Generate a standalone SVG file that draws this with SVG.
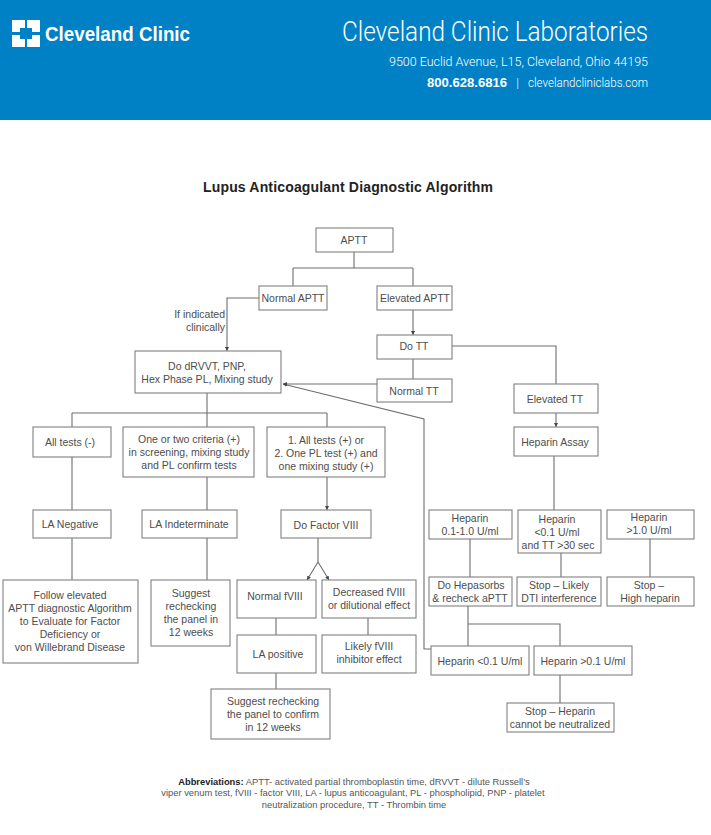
<svg xmlns="http://www.w3.org/2000/svg" width="711" height="835" viewBox="0 0 711 835">
<style>
text{font-family:"Liberation Sans",Arial,sans-serif}
.b rect{fill:#fff;stroke:#808080;stroke-width:1.1}
.b text,.t{font-size:10.5px;fill:#4d4d4d;text-anchor:middle}
.c path{fill:none;stroke:#6e6e6e;stroke-width:1.1}
.h{fill:#fff;text-anchor:end;font-family:Roboto,"Liberation Sans",sans-serif;font-weight:300}
.a{font-size:9.35px;fill:#555;text-anchor:middle}
</style>
<defs><marker id="ar" markerWidth="5" markerHeight="5" refX="4" refY="2" orient="auto" markerUnits="userSpaceOnUse"><path d="M0 0L4 2L0 4z" fill="#444"/></marker></defs>
<rect width="711" height="120" fill="#0081c6"/>
<g id="logo"><path d="M12 20H25V28H20V32H12ZM27 20H40V32H32V28H27ZM12 35H20V39H25V47H12ZM32 35H40V47H27V39H32Z" fill="#fff"/>
<text x="45" y="41" font-size="21" font-weight="700" fill="#fff" textLength="145" lengthAdjust="spacingAndGlyphs">Cleveland Clinic</text></g>
<text class="h" x="648" y="41" font-size="28" textLength="306" lengthAdjust="spacingAndGlyphs">Cleveland Clinic Laboratories</text>
<text class="h" x="648" y="66" font-size="12.5" textLength="259" lengthAdjust="spacingAndGlyphs">9500 Euclid Avenue, L15, Cleveland, Ohio 44195</text>
<text x="427" y="87" font-size="12.5" font-weight="700" fill="#fff" textLength="80" lengthAdjust="spacingAndGlyphs">800.628.6816</text>
<text class="h" x="519" y="87" font-size="12">|</text>
<text class="h" x="648" y="87" font-size="12" textLength="120" lengthAdjust="spacingAndGlyphs">clevelandcliniclabs.com</text>
<text x="348" y="192" font-size="14" font-weight="700" fill="#222" text-anchor="middle" textLength="290" lengthAdjust="spacing">Lupus Anticoagulant Diagnostic Algorithm</text>
<g id="connectors" class="c">
<path d="M354 252V268M293 268H413M293 268V286M413 268V286"/>
<path d="M259 298H227V351" marker-end="url(#ar)"/>
<path d="M413 310V335" marker-end="url(#ar)"/>
<path d="M413 359V379"/>
<path d="M377 384H283" marker-end="url(#ar)"/>
<path d="M431 649H424V419L283 384" marker-end="url(#ar)"/>
<path d="M452 346H556V384"/>
<path d="M556 413V427" marker-end="url(#ar)"/>
<path d="M554 456V510"/>
<path d="M207 393V428M72 413H327M72 413V427M327 413V427"/>
<path d="M72 457V510M72 538V580M207 477V510M207 538V580"/>
<path d="M327 477V510" marker-end="url(#ar)"/>
<path d="M318 538V562"/>
<path d="M318 562L307 580" marker-end="url(#ar)"/>
<path d="M318 562L329 580" marker-end="url(#ar)"/>
<path d="M276 618V635M276 673V689M368 618V635"/>
<path d="M470 539V577M561 553V577M650 539V577"/>
<path d="M468 606V646M468 624H560V646M560 675V703"/>
</g>
<g class="b">
<g id="n-aptt"><rect x="316" y="228" width="77" height="24"/><text x="354" y="244">APTT</text></g>
<g id="n-normal-aptt"><rect x="259" y="286" width="68" height="24"/><text x="293" y="302">Normal APTT</text></g>
<g id="n-elevated-aptt"><rect x="377" y="286" width="75" height="24"/><text x="415" y="302">Elevated APTT</text></g>
<g id="n-do-tt"><rect x="377" y="335" width="75" height="24"/><text x="414" y="350">Do TT</text></g>
<g id="n-normal-tt"><rect x="377" y="379" width="75" height="23"/><text x="414" y="395">Normal TT</text></g>
<g id="n-drvvt"><rect x="135" y="351" width="146" height="42"/><text x="207" y="370">Do dRVVT, PNP,</text><text x="207" y="383">Hex Phase PL, Mixing study</text></g>
<g id="n-elevated-tt"><rect x="514" y="384" width="84" height="29"/><text x="555" y="403">Elevated TT</text></g>
<g id="n-heparin-assay"><rect x="514" y="427" width="84" height="29"/><text x="555" y="446">Heparin Assay</text></g>
<g id="n-all-neg"><rect x="33" y="427" width="78" height="30"/><text x="70" y="446">All tests (-)</text></g>
<g id="n-one-two"><rect x="123" y="427" width="131" height="50"/><text x="189" y="443">One or two criteria (+)</text><text x="189" y="456">in screening, mixing study</text><text x="189" y="469">and PL confirm tests</text></g>
<g id="n-all-pos"><rect x="267" y="427" width="118" height="50"/><text x="326" y="444">1. All tests (+) or</text><text x="326" y="457">2. One PL test (+) and</text><text x="326" y="470">one mixing study (+)</text></g>
<g id="n-la-neg"><rect x="33" y="510" width="78" height="28"/><text x="70" y="528">LA Negative</text></g>
<g id="n-la-ind"><rect x="142" y="510" width="95" height="28"/><text x="189" y="528">LA Indeterminate</text></g>
<g id="n-factor"><rect x="281" y="510" width="90" height="28"/><text x="326" y="529">Do Factor VIII</text></g>
<g id="n-hep-mid"><rect x="429" y="510" width="83" height="29"/><text x="470" y="522">Heparin</text><text x="470" y="535">0.1-1.0 U/ml</text></g>
<g id="n-hep-low"><rect x="518" y="510" width="83" height="43"/><text x="557" y="523">Heparin</text><text x="557" y="536">&lt;0.1 U/ml</text><text x="558" y="549">and TT &gt;30 sec</text></g>
<g id="n-hep-high"><rect x="607" y="510" width="87" height="29"/><text x="649" y="521">Heparin</text><text x="649" y="534">&gt;1.0 U/ml</text></g>
<g id="n-follow"><rect x="3" y="580" width="135" height="83"/><text x="70" y="599">Follow elevated</text><text x="70" y="612">APTT diagnostic Algorithm</text><text x="70" y="625">to Evaluate for Factor</text><text x="70" y="638">Deficiency or</text><text x="70" y="651">von Willebrand Disease</text></g>
<g id="n-suggest"><rect x="151" y="580" width="79" height="66"/><text x="191" y="597">Suggest</text><text x="191" y="610">rechecking</text><text x="191" y="623">the panel in</text><text x="191" y="636">12 weeks</text></g>
<g id="n-normal-f8"><rect x="237" y="580" width="79" height="38"/><text x="275" y="600">Normal fVIII</text></g>
<g id="n-dec-f8"><rect x="322" y="580" width="94" height="38"/><text x="369" y="596">Decreased fVIII</text><text x="369" y="609">or dilutional effect</text></g>
<g id="n-la-pos"><rect x="237" y="635" width="79" height="38"/><text x="278" y="658">LA positive</text></g>
<g id="n-likely"><rect x="322" y="635" width="94" height="38"/><text x="369" y="650">Likely fVIII</text><text x="369" y="663">inhibitor effect</text></g>
<g id="n-suggest2"><rect x="211" y="689" width="119" height="50"/><text x="273" y="705">Suggest rechecking</text><text x="273" y="718">the panel to confirm</text><text x="273" y="731">in 12 weeks</text></g>
<g id="n-hepasorbs"><rect x="429" y="577" width="83" height="29"/><text x="471" y="589">Do Hepasorbs</text><text x="470" y="602">&amp; recheck aPTT</text></g>
<g id="n-stop-dti"><rect x="517" y="577" width="84" height="29"/><text x="559" y="589">Stop – Likely</text><text x="559" y="602">DTI interference</text></g>
<g id="n-stop-high"><rect x="607" y="577" width="87" height="29"/><text x="649" y="589">Stop –</text><text x="650" y="602">High heparin</text></g>
<g id="n-lt"><rect x="431" y="646" width="98" height="29"/><text x="480" y="665">Heparin &lt;0.1 U/ml</text></g>
<g id="n-gt"><rect x="534" y="646" width="98" height="29"/><text x="583" y="665">Heparin &gt;0.1 U/ml</text></g>
<g id="n-stop-neut"><rect x="507" y="703" width="107" height="29"/><text x="560" y="715">Stop – Heparin</text><text x="560" y="728">cannot be neutralized</text></g>
</g>
<text class="t" style="text-anchor:end" x="225" y="318">If indicated</text>
<text class="t" style="text-anchor:end" x="225" y="331">clinically</text>
<text class="a" x="354" y="785"><tspan font-weight="700" fill="#222">Abbreviations:</tspan> APTT- activated partial thromboplastin time, dRVVT - dilute Russell’s</text>
<text class="a" x="353" y="796">viper venum test, fVIII - factor VIII, LA - lupus anticoagulant, PL - phospholipid, PNP - platelet</text>
<text class="a" x="354" y="808">neutralization procedure, TT - Thrombin time</text>
</svg>
